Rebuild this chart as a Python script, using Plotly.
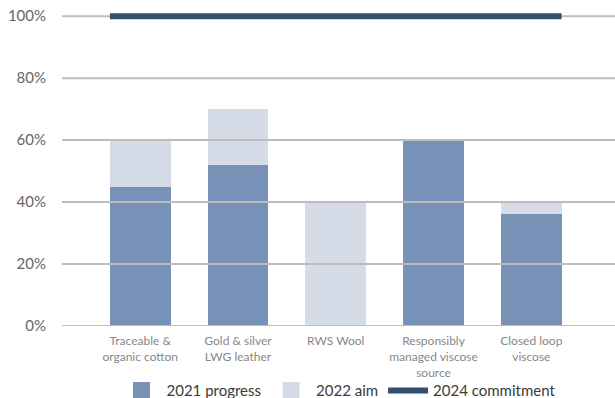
import plotly.graph_objects as go

# Material categories (x axis) and percentages
categories = [
    "Traceable &<br>organic cotton",
    "Gold & silver<br>LWG leather",
    "RWS Wool",
    "Responsibly<br>managed viscose<br>source",
    "Closed loop<br>viscose",
]
progress_2021 = [45, 52, 0, 60, 36]
aim_2022 = [60, 70, 40, 60, 40]
commitment_2024 = 100
y_ticks = [0, 20, 40, 60, 80, 100]
y_tick_labels = [f"{v}%" for v in y_ticks]

C_PROGRESS = "#7792b6"
C_AIM = "#d5dce8"
C_COMMIT = "#34506f"
C_GRID = "#bdbdbd"
FONT = "Lato"

positions = list(range(len(categories)))
bar_width = 0.62
# The aim segment sits on top of the progress segment
aim_extra = [a - p for a, p in zip(aim_2022, progress_2021)]

fig = go.Figure()
fig.add_trace(go.Bar(
    x=positions, y=progress_2021, width=bar_width,
    marker=dict(color=C_PROGRESS, line=dict(width=0)),
    name="2021 progress", showlegend=False, hoverinfo="skip",
))
fig.add_trace(go.Bar(
    x=positions, y=aim_extra, width=bar_width,
    marker=dict(color=C_AIM, line=dict(width=0)),
    name="2022 aim", showlegend=False, hoverinfo="skip",
))
fig.add_trace(go.Scatter(
    x=[positions[0] - bar_width / 2, positions[-1] + bar_width / 2],
    y=[commitment_2024, commitment_2024],
    mode="lines", line=dict(color=C_COMMIT, width=6),
    name="2024 commitment", showlegend=False, cliponaxis=False,
    hoverinfo="skip",
))

# Legend entries with larger swatches
for name, color in [("2021 progress", C_PROGRESS), ("2022 aim", C_AIM)]:
    fig.add_trace(go.Bar(
        x=[None], y=[None], name=name,
        marker=dict(color=color, line=dict(color=color, width=6)),
    ))
fig.add_trace(go.Scatter(
    x=[None], y=[None], mode="lines", name="2024 commitment",
    line=dict(color=C_COMMIT, width=6),
))

# Gridlines drawn over the bars; the top one stays under the commitment line
for v in y_ticks:
    fig.add_hline(
        y=v, line=dict(color=C_GRID, width=2),
        layer="below" if v == max(y_ticks) else "above",
    )

fig.update_layout(
    width=615, height=398,
    margin=dict(l=62, r=0, t=10, b=72, autoexpand=False),
    paper_bgcolor="white", plot_bgcolor="white",
    barmode="stack",
    font=dict(family=FONT, color="#555"),
    showlegend=True,
    legend=dict(
        orientation="h", x=0.5, xanchor="center", y=-0.205, yanchor="middle",
        font=dict(family=FONT, size=15, color="#3a3a3a"),
        itemwidth=40, traceorder="normal", bgcolor="rgba(0,0,0,0)",
    ),
    xaxis=dict(
        range=[-0.8, 4.856], tickvals=positions, ticktext=categories,
        showgrid=False, zeroline=False, showline=False,
        ticks="outside", ticklen=4, tickcolor="rgba(0,0,0,0)",
        tickfont=dict(family=FONT, size=12, color="#888"),
    ),
    yaxis=dict(
        range=[0, 102], tickvals=y_ticks, ticktext=y_tick_labels,
        showgrid=False, zeroline=False, showline=False,
        ticks="outside", ticklen=12, tickcolor="rgba(0,0,0,0)",
        tickfont=dict(family=FONT, size=15, color="#666"),
    ),
)

fig.write_html("out.html")
